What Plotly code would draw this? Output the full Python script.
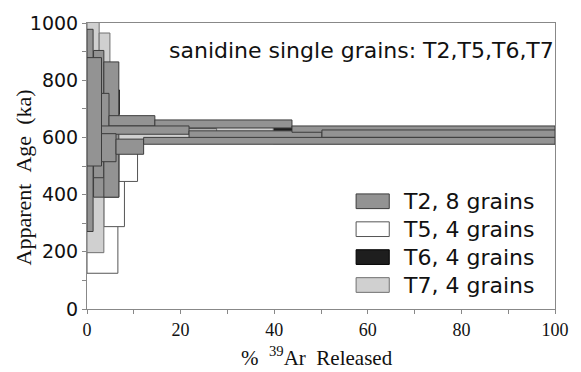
import plotly.graph_objects as go

# ---- data: step boxes (x start %, x end %, age low ka, age high ka) ----
t5_x0 = [0.0, 3.6, 6.8, 10.8]
t5_x1 = [6.6, 8.0, 10.8, 100.0]
t5_lo = [125, 288, 446, 580]
t5_hi = [760, 560, 560, 612]

t6_x0 = [4.5, 21.8, 43.8]
t6_x1 = [6.9, 43.8, 100.0]
t6_lo = [680, 600, 594]
t6_hi = [766, 636, 632]

t7_x0 = [0.0, 0.0, 2.6, 4.9, 27.7, 39.8]
t7_x1 = [2.6, 3.6, 4.9, 27.7, 39.8, 100.0]
t7_lo = [600, 197, 520, 580, 585, 578]
t7_hi = [1050, 650, 965, 630, 636, 616]

t2_x0 = [1.4, 0.0, 1.4, 0.0, 3.6, 3.1, 4.7, 14.5, 3.1, 3.1, 6.2, 21.8, 43.8, 50.2, 12.1]
t2_x1 = [6.8, 1.3, 3.6, 3.1, 6.8, 4.7, 14.5, 43.8, 21.8, 6.2, 12.1, 50.2, 100.0, 100.0, 100.0]
t2_lo = [391, 271, 459, 500, 391, 560, 640, 633, 611, 515, 541, 596, 618, 600, 576]
t2_hi = [560, 978, 904, 879, 864, 754, 676, 661, 640, 613, 594, 623, 640, 626, 600]

legend_labels = ["T2, 8 grains", "T5, 4 grains", "T6, 4 grains", "T7, 4 grains"]
title_text = "sanidine single grains: T2,T5,T6,T7"

styles = {
    "T5": dict(fill="#ffffff", line="#555555"),
    "T6": dict(fill="#1e1e1e", line="#000000"),
    "T7": dict(fill="#d0d0d0", line="#707070"),
    "T2": dict(fill="#939393", line="#3c3c3c"),
}

series = [
    ("T5", t5_x0, t5_x1, t5_lo, t5_hi),
    ("T6", t6_x0, t6_x1, t6_lo, t6_hi),
    ("T7", t7_x0, t7_x1, t7_lo, t7_hi),
    ("T2", t2_x0, t2_x1, t2_lo, t2_hi),
]

fig = go.Figure()
# invisible trace to establish axes
fig.add_trace(go.Scatter(x=[0, 100], y=[0, 1000], mode="markers",
                         marker=dict(opacity=0), hoverinfo="skip", showlegend=False))

shapes = []
for name, x0s, x1s, los, his in series:
    st = styles[name]
    for a, b, lo, hi in zip(x0s, x1s, los, his):
        shapes.append(dict(type="rect", xref="x", yref="y", x0=a, x1=b, y0=lo, y1=hi,
                           fillcolor=st["fill"], line=dict(color=st["line"], width=1),
                           layer="above"))

# legend (manual)
leg_names = ["T2", "T5", "T6", "T7"]
W, H = 581, 372
L, R, T, B = 87, 14, 17, 63
pw, ph = W - L - R, H - T - B

def px2paper(px, py):
    return (px - L) / pw, (H - B - py) / ph

annotations = []
for i, (nm, lab) in enumerate(zip(leg_names, legend_labels)):
    cy = 199 + i * 28.5
    xa, ya = px2paper(363, cy - 7.5)
    xb, yb = px2paper(397, cy + 7.5)
    st = styles[nm]
    shapes.append(dict(type="rect", xref="paper", yref="paper", x0=xa, x1=xb, y0=yb, y1=ya,
                       fillcolor=st["fill"], line=dict(color=st["line"], width=1), layer="above"))
    tx, ty = px2paper(409, cy)
    annotations.append(dict(text=lab, xref="paper", yref="paper", x=tx, y=ty,
                            xanchor="left", yanchor="middle", showarrow=False,
                            font=dict(family="DejaVu Sans", size=22, color="#111111")))

tx, ty = px2paper(568, 45)
annotations.append(dict(text=title_text, xref="paper", yref="paper", x=tx, y=ty,
                        xanchor="right", yanchor="middle", showarrow=False,
                        font=dict(family="DejaVu Sans", size=22, color="#111111")))

tx, ty = px2paper(323, 357)
annotations.append(dict(text="%\u00a0\u00a0<sup>39</sup>Ar\u00a0\u00a0Released", xref="paper", yref="paper",
                        x=tx, y=ty, xanchor="center", yanchor="middle", showarrow=False,
                        font=dict(family="Liberation Serif", size=21, color="#111111")))

tx, ty = px2paper(22, 175)
annotations.append(dict(text="Apparent\u00a0\u00a0Age\u00a0\u00a0(ka)", xref="paper", yref="paper",
                        x=tx, y=ty, xanchor="center", yanchor="middle", textangle=-90,
                        showarrow=False,
                        font=dict(family="Liberation Serif", size=22, color="#111111")))

axis_common = dict(showgrid=False, zeroline=False, showline=True, linecolor="#888888",
                   linewidth=1, mirror=True, ticks="outside", tickcolor="#888888",
                   ticklen=4)

fig.update_layout(
    width=W, height=H,
    margin=dict(l=L, r=R, t=T, b=B),
    paper_bgcolor="white", plot_bgcolor="white",
    shapes=shapes, annotations=annotations,
    showlegend=False,
    xaxis=dict(range=[0, 100], dtick=20, tick0=0,
               minor=dict(dtick=10, ticks="outside", ticklen=4, tickcolor="#888888"),
               tickfont=dict(family="Liberation Serif", size=18, color="#111111"),
               **axis_common),
    yaxis=dict(range=[0, 1000], dtick=200, tick0=0,
               minor=dict(dtick=100, ticks="outside", ticklen=4, tickcolor="#888888"),
               tickfont=dict(family="DejaVu Sans", size=19, color="#111111"),
               **axis_common),
)

fig.write_html("out.html")
